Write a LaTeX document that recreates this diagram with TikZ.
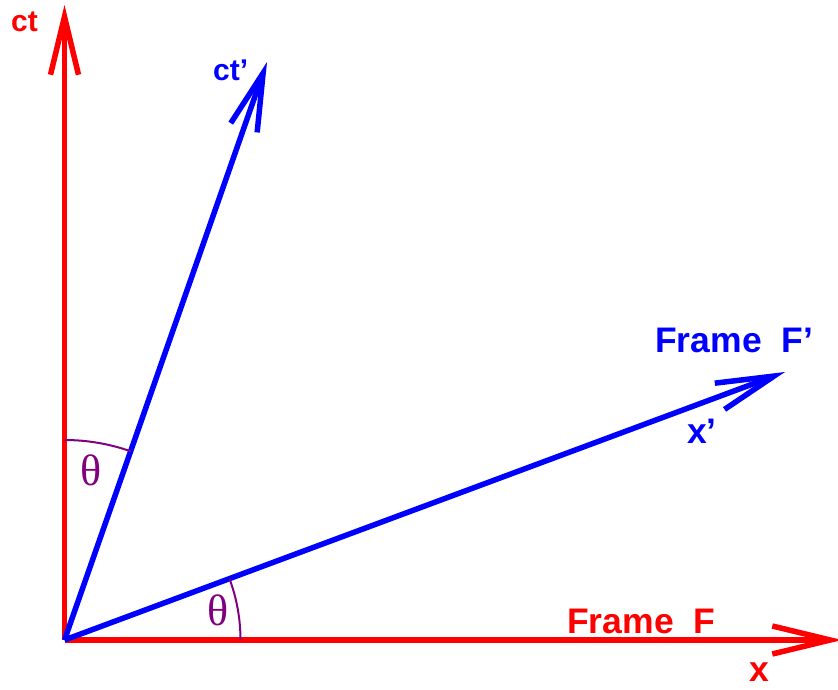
\documentclass[tikz,border=0pt]{standalone}
\usepackage{fontspec}
\setmainfont{Liberation Sans}
\newfontfamily\thetafont{Liberation Serif}
\usetikzlibrary{arrows.meta}
\definecolor{thpurple}{RGB}{128,0,128}
\begin{document}
\begin{tikzpicture}[x=1pt,y=1pt,
  axisline/.style={line width=5.5pt, -{Straight Barb[length=58pt,width=28pt]}},
  redaxis/.style={axisline, draw=red},
  blueaxis/.style={axisline, draw=blue},
  biglbl/.style={font=\fontsize{35.5}{40}\selectfont\bfseries, inner sep=0pt, anchor=base west},
  smalllbl/.style={font=\fontsize{30}{36}\selectfont\bfseries, inner sep=0pt, anchor=base west},
  anglearc/.style={draw=thpurple, line width=2pt},
  thetalbl/.style={font=\thetafont\fontsize{44}{50}\selectfont, text=thpurple, inner sep=0pt}
]
\useasboundingbox (0,0) rectangle (838,689);
\coordinate (O) at (64.5,49);
\coordinate (ctTip) at (64.5,684);
\coordinate (xTip) at (842,49);
\coordinate (ctpTip) at (267,627);
\coordinate (xpTip) at (785,317);

\draw[redaxis] (O) -- (ctTip);
\draw[redaxis] (O) -- (xTip);
\draw[blueaxis] (O) -- (ctpTip);
\draw[blueaxis] (O) -- (xpTip);

\draw[anglearc] (O) ++(90:200) arc[start angle=90, end angle=70.65, radius=200];
\draw[anglearc] (O) ++(0:176) arc[start angle=0, end angle=20.4, radius=176];

\node[smalllbl, text=red] (ctL) at (11,657) {ct};
\node[smalllbl, text=blue] (ctpL) at (213,608) {ct’};
\node[biglbl, text=blue] (frameFp) at (655,336) {Frame~~F’};
\node[biglbl, text=blue] (xpL) at (687,246) {x’};
\node[biglbl, text=red] (frameF) at (567,56) {Frame~~F};
\node[biglbl, text=red] (xL) at (749,8) {x};
\node[thetalbl] (th1) at (91,219) {θ};
\node[thetalbl] (th2) at (218,79) {θ};
\end{tikzpicture}
\end{document}
